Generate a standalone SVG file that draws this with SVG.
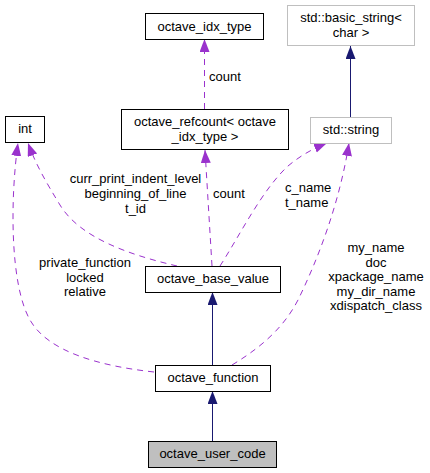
<svg xmlns="http://www.w3.org/2000/svg" width="430" height="473" viewBox="0 0 430 473">
<style>
text{font-family:"Liberation Sans",Arial,Helvetica,sans-serif;font-size:13px;fill:#000}
.c{text-anchor:middle}
.n{fill:#fff;stroke:#000;stroke-width:1}
.g{fill:#fff;stroke:#bfbfbf;stroke-width:1}
.h{fill:#bfbfbf;stroke:#000;stroke-width:1}
.inh{fill:none;stroke:#191970;stroke-width:1}
.use{fill:none;stroke:#9a32cd;stroke-width:1;stroke-dasharray:6,5}
</style>
<defs>
<marker id="ab" markerUnits="userSpaceOnUse" markerWidth="14" markerHeight="11" refX="13" refY="5" orient="auto"><path d="M0,0 L13,5 L0,10 z" fill="#191970"/></marker>
<marker id="ap" markerUnits="userSpaceOnUse" markerWidth="14" markerHeight="11" refX="13" refY="5" orient="auto"><path d="M0,0 L13,5 L0,10 z" fill="#9a32cd"/></marker>
</defs>
<g id="connectors">
<path class="inh" d="M212.5,442 V391" marker-end="url(#ab)"/>
<path class="inh" d="M212.5,365 V292" marker-end="url(#ab)"/>
<path class="inh" d="M350.5,117 V46" marker-end="url(#ab)"/>
<path class="use" d="M204.5,109 V39" marker-end="url(#ap)"/>
<path class="use" d="M212,266 L205,150" marker-end="url(#ap)"/>
<path class="use" d="M177,266 C130,255 80,238 60,205 C46,182 36,165 28,143" marker-end="url(#ap)"/>
<path class="use" d="M220,266 C240,235 262,190 288,166 C300,156 312,149 327,143" marker-end="url(#ap)"/>
<path class="use" d="M154,372 C100,366 48,352 30,320 C10,285 10,200 18,143" marker-end="url(#ap)"/>
<path class="use" d="M232,365 C265,345 285,325 298,300 C320,255 340,200 349,143" marker-end="url(#ap)"/>
<text x="209" y="81">count</text>
<text x="213" y="198">count</text>
<text class="c" x="135.5" y="183">curr_print_indent_level</text>
<text class="c" x="135.5" y="198">beginning_of_line</text>
<text class="c" x="135.5" y="213">t_id</text>
<text x="285" y="192">c_name</text>
<text x="285" y="206.5">t_name</text>
<text class="c" x="85" y="267">private_function</text>
<text class="c" x="85" y="281.5">locked</text>
<text class="c" x="85" y="296">relative</text>
<text class="c" x="376" y="252">my_name</text>
<text class="c" x="376" y="266.5">doc</text>
<text class="c" x="376" y="281">xpackage_name</text>
<text class="c" x="376" y="295.5">my_dir_name</text>
<text class="c" x="376" y="310">xdispatch_class</text>
</g>
<g id="octave_idx_type"><rect class="n" x="145.5" y="13.5" width="118" height="26"/><text class="c" x="204.5" y="30.5">octave_idx_type</text></g>
<g id="std_basic_string"><rect class="g" x="287.5" y="5.5" width="127" height="40"/><text class="c" x="351" y="22">std::basic_string&lt;</text><text class="c" x="351" y="36.5">char &gt;</text></g>
<g id="int"><rect class="n" x="5.5" y="116.5" width="39" height="26"/><text class="c" x="25" y="133">int</text></g>
<g id="octave_refcount"><rect class="n" x="121.5" y="109.5" width="167" height="40"/><text class="c" x="205" y="126">octave_refcount&lt; octave</text><text class="c" x="205" y="140.5">_idx_type &gt;</text></g>
<g id="std_string"><rect class="g" x="310.5" y="117.5" width="81" height="26"/><text class="c" x="351" y="134">std::string</text></g>
<g id="octave_base_value"><rect class="n" x="145.5" y="266.5" width="135" height="26"/><text class="c" x="213" y="283">octave_base_value</text></g>
<g id="octave_function"><rect class="n" x="155.5" y="365.5" width="115" height="26"/><text class="c" x="213" y="382">octave_function</text></g>
<g id="octave_user_code"><rect class="h" x="148.5" y="441.5" width="128" height="26"/><text class="c" x="212.5" y="458">octave_user_code</text></g>
</svg>
